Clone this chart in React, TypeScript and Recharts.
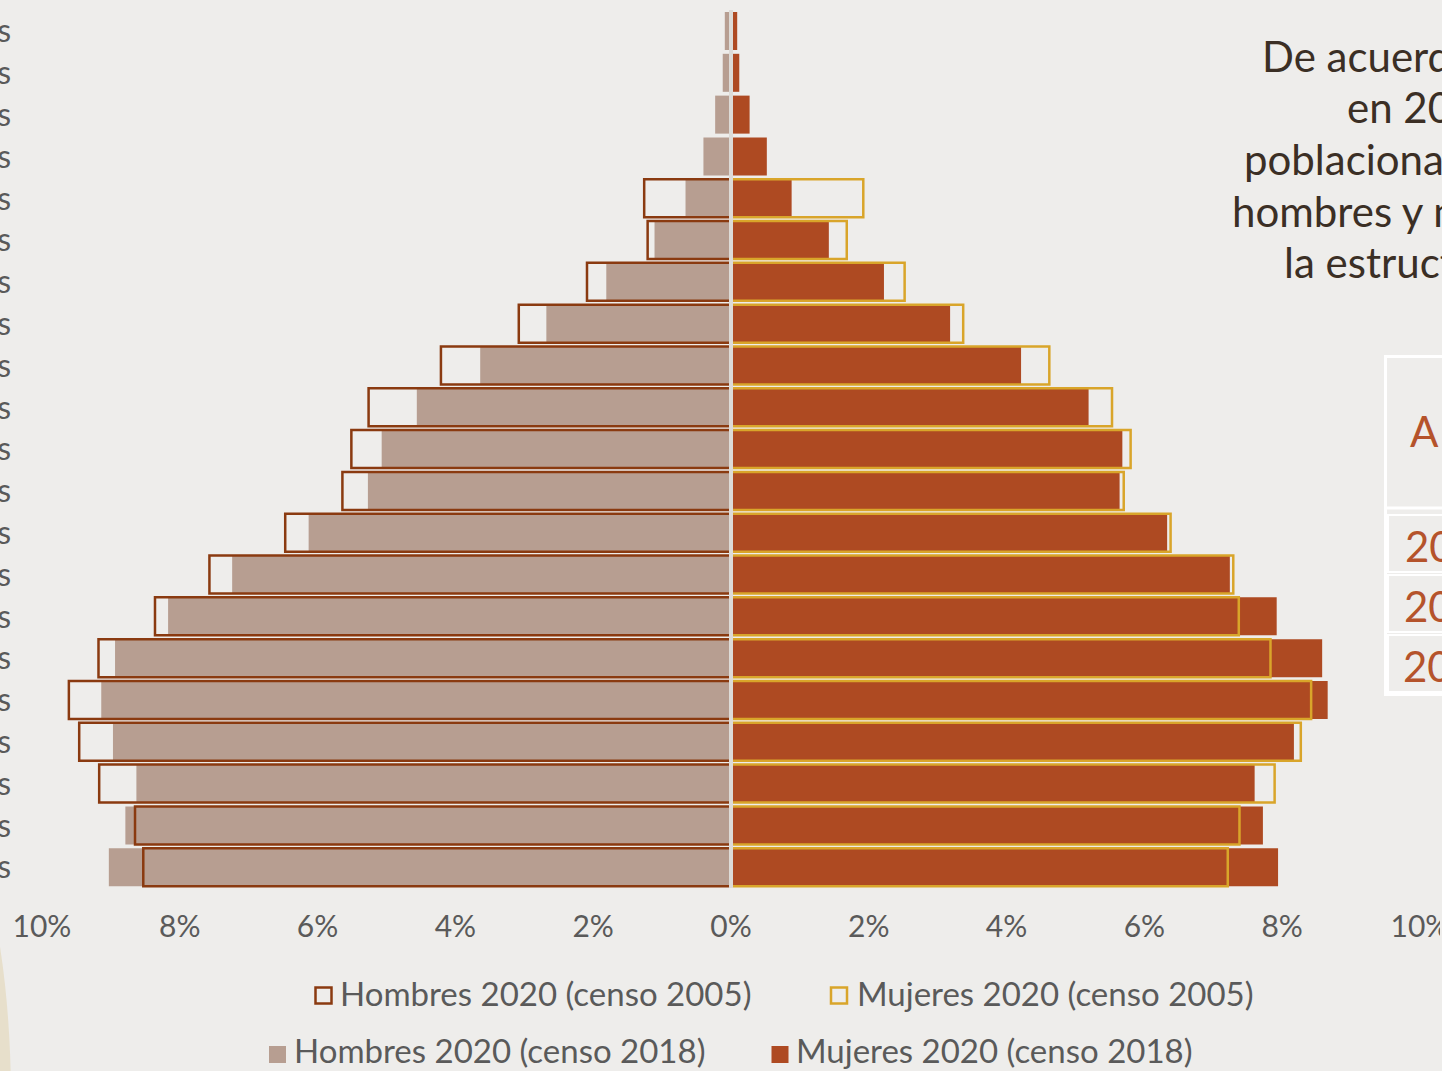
import React from "react";
import { BarChart, Bar, XAxis, YAxis, ReferenceLine } from "recharts";

const ageGroups = [
  "100 y más años", "95 a 99 años", "90 a 94 años", "85 a 89 años", "80 a 84 años",
  "75 a 79 años", "70 a 74 años", "65 a 69 años", "60 a 64 años", "55 a 59 años",
  "50 a 54 años", "45 a 49 años", "40 a 44 años", "35 a 39 años", "30 a 34 años",
  "25 a 29 años", "20 a 24 años", "15 a 19 años", "10 a 14 años", "5 a 9 años", "0 a 4 años",
];

// porcentajes
const hombres2018 = [0.09, 0.12, 0.23, 0.4, 0.66, 1.11, 1.81, 2.68, 3.64, 4.56, 5.07, 5.27, 6.13, 7.24, 8.17, 8.94, 9.14, 8.97, 8.63, 8.79, 9.03];
const hombres2005 = [0, 0, 0, 0, 1.26, 1.21, 2.09, 3.08, 4.21, 5.26, 5.51, 5.64, 6.47, 7.57, 8.36, 9.18, 9.61, 9.46, 9.17, 8.65, 8.53];
const mujeres2018 = [0.09, 0.12, 0.27, 0.52, 0.88, 1.42, 2.22, 3.18, 4.21, 5.19, 5.68, 5.64, 6.33, 7.24, 7.92, 8.58, 8.66, 8.17, 7.6, 7.72, 7.94];
const mujeres2005 = [0, 0, 0, 0, 1.92, 1.68, 2.52, 3.37, 4.62, 5.53, 5.8, 5.7, 6.38, 7.29, 7.37, 7.83, 8.42, 8.27, 7.89, 7.38, 7.21];

const xTicks = [-10, -8, -6, -4, -2, 0, 2, 4, 6, 8, 10];

const legendItems = [
  "Hombres 2020 (censo 2005)",
  "Mujeres 2020 (censo 2005)",
  "Hombres 2020 (censo 2018)",
  "Mujeres 2020 (censo 2018)",
];

const textLines = [
  "De acuerdo con el censo 2005,",
  "en 2020 la pirámide",
  "poblacional tendría más",
  "hombres y mujeres jóvenes;",
  "la estructura cambió con el",
];

const tableRows = ["Año", "2005", "2018", "2020"];

const tabla = ageGroups.map((g, i) => ({
  grupo: g,
  h18: -hombres2018[i],
  m18: mujeres2018[i],
  h05: -hombres2005[i],
  m05: mujeres2005[i],
}));

const C_H18 = "#b79e91";
const C_M18 = "#ae4a22";
const C_H05 = "#8a3a10";
const C_M05 = "#d9a52a";
const GRAY = "#5a5a5a";
const FONT = "Lato, 'Open Sans', sans-serif";

export default function App() {
  return (
    <div
      style={{
        position: "fixed",
        left: 0,
        top: 0,
        width: 1442,
        height: 1071,
        overflow: "hidden",
        background: "#eeedeb",
        fontFamily: FONT,
      }}
    >
      <div
        style={{
          position: "absolute",
          left: -145,
          top: 800,
          width: 156,
          height: 600,
          borderRadius: "50%",
          background: "#e7dfcb",
        }}
      />
      <div style={{ position: "absolute", left: -148.5, top: 0 }}>
        <BarChart
          width={1588}
          height={948}
          data={tabla}
          layout="vertical"
          stackOffset="sign"
          barCategoryGap={2}
          margin={{ top: 10, right: 20, bottom: 0, left: 0 }}
        >
          <XAxis
            type="number"
            domain={[-10, 10]}
            ticks={xTicks}
            interval={0}
            tickFormatter={(v: number) => `${Math.abs(v)}%`}
            axisLine={false}
            tickLine={false}
            tickSize={0}
            tickMargin={28}
            height={60}
            tick={{ fill: GRAY, fontSize: 30, fontFamily: FONT }}
          />
          <YAxis
            yAxisId="a"
            type="category"
            dataKey="grupo"
            width={190}
            interval={0}
            axisLine={false}
            tickLine={false}
            tickSize={0}
            tickMargin={31}
            tick={{ fill: GRAY, fontSize: 32, fontFamily: FONT }}
          />
          <YAxis yAxisId="b" type="category" dataKey="grupo" hide />
          <Bar yAxisId="a" dataKey="h18" stackId="s18" fill={C_H18} isAnimationActive={false} />
          <Bar yAxisId="a" dataKey="m18" stackId="s18" fill={C_M18} isAnimationActive={false} />
          <ReferenceLine yAxisId="a" x={0} stroke="#dddbd7" strokeWidth={4} />
          <Bar
            yAxisId="b"
            dataKey="h05"
            stackId="s05"
            fill="none"
            stroke={C_H05}
            strokeWidth={2.5}
            isAnimationActive={false}
          />
          <Bar
            yAxisId="b"
            dataKey="m05"
            stackId="s05"
            fill="none"
            stroke={C_M05}
            strokeWidth={2.5}
            isAnimationActive={false}
          />
        </BarChart>
      </div>

      <svg
        width={1442}
        height={1071}
        style={{ position: "absolute", left: 0, top: 0, pointerEvents: "none" }}
      >
        {/* texto lateral */}
        {textLines.map((t, i) => (
          <text
            key={t}
            x={[1262, 1347, 1244, 1232, 1284][i]}
            y={[72, 123, 175, 227, 278][i]}
            fontSize={42}
            fontFamily={FONT}
            fill="#3b2f25"
          >
            {t}
          </text>
        ))}

        {/* tabla */}
        <rect x={1385.5} y={356.5} width={200} height={338} fill="none" stroke="#fff" strokeWidth={3} />
        <line x1={1385} y1={508} x2={1442} y2={508} stroke="#fff" strokeWidth={3} />
        <rect x={1388} y={515} width={100} height={57} fill="none" stroke="#fff" strokeWidth={2} />
        <rect x={1388} y={575} width={100} height={57} fill="none" stroke="#fff" strokeWidth={2} />
        <rect x={1388} y={635} width={100} height={57} fill="none" stroke="#fff" strokeWidth={2} />
        {tableRows.map((t, i) => (
          <text
            key={t}
            x={[1410, 1405, 1404, 1403][i]}
            y={[447, 562, 622, 682][i]}
            fontSize={42}
            fontFamily={FONT}
            letterSpacing={i === 0 ? 6 : 0}
            fill="#b5532b"
          >
            {t}
          </text>
        ))}

        {/* leyenda */}
        <rect x={315.5} y={987.5} width={16} height={16} fill="none" stroke={C_H05} strokeWidth={2.5} />
        <text x={340} y={1006} fontSize={33} fontFamily={FONT} fill={GRAY}>{legendItems[0]}</text>
        <rect x={831} y={987.5} width={16} height={16} fill="none" stroke={C_M05} strokeWidth={2.5} />
        <text x={857} y={1006} fontSize={33} fontFamily={FONT} fill={GRAY}>{legendItems[1]}</text>
        <rect x={269} y={1046} width={17} height={17} fill={C_H18} />
        <text x={294} y={1063} fontSize={33} fontFamily={FONT} fill={GRAY}>{legendItems[2]}</text>
        <rect x={771.5} y={1046} width={17} height={17} fill={C_M18} />
        <text x={796} y={1063} fontSize={33} fontFamily={FONT} fill={GRAY}>{legendItems[3]}</text>
      </svg>
    </div>
  );
}
